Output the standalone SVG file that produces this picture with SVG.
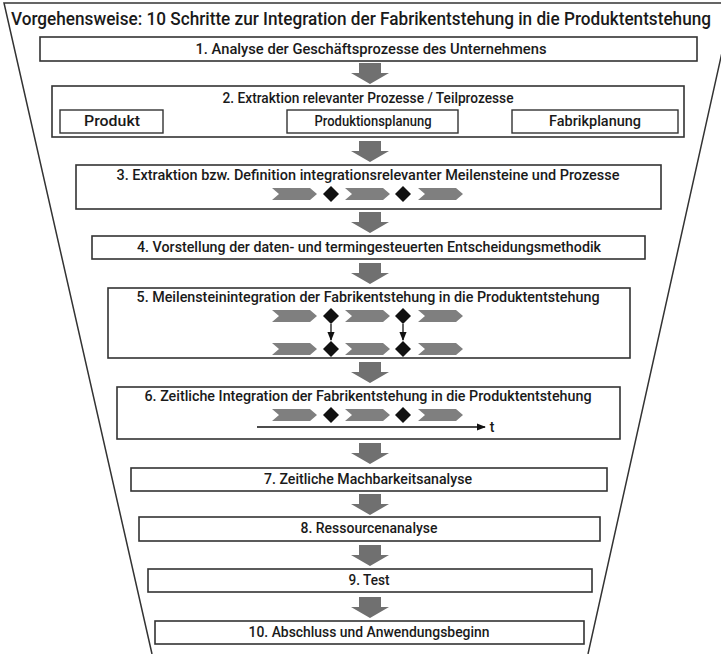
<svg xmlns="http://www.w3.org/2000/svg" xmlns:xlink="http://www.w3.org/1999/xlink" width="721" height="654" viewBox="0 0 721 654">
  <style>
    .box { fill: #ffffff; stroke: #333333; stroke-width: 1.6; }
    .sub { fill: #ffffff; stroke: #333333; stroke-width: 1.4; }
    .lbl { font-family: Roboto, "Liberation Sans", sans-serif; font-weight: 500; font-size: 14px; fill: #1a1a1a; text-anchor: middle; }
    .title { font-family: Roboto, "Liberation Sans", sans-serif; font-weight: 500; font-size: 18px; fill: #1a1a1a; text-anchor: middle; }
    .chev { fill: #7f7f7f; }
    .dia { fill: #111111; }
    .flow { fill: #707070; }
    .line { stroke: #111111; stroke-width: 1.3; fill: none; }
  </style>
  <defs>
    <!-- gray block arrow between the steps, tip at y=21 -->
    <path id="blockArrow" d="M-11 0 H11 V10 H19 L0 21 L-19 10 H-11 Z"/>
    <!-- process chevron, 45 wide, 12 high -->
    <path id="chevron" d="M0 -6 H38 L45 0 L38 6 H0 L7 0 Z"/>
    <!-- milestone diamond -->
    <path id="diamond" d="M0 -8 L8 0 L0 8 L-8 0 Z"/>
    <marker id="tip" viewBox="0 0 10 10" refX="9" refY="5" markerWidth="7" markerHeight="7" orient="auto">
      <path d="M0 1 L10 5 L0 9 Z" fill="#111111"/>
    </marker>
  </defs>

  <rect width="721" height="654" fill="#ffffff"/>

  <!-- funnel outline -->
  <path d="M152 654 L4 3 H733 L588 654" fill="none" stroke="#333333" stroke-width="1.5"/>
  <text class="title" x="361" y="25" textLength="700" lengthAdjust="spacingAndGlyphs">Vorgehensweise: 10 Schritte zur Integration der Fabrikentstehung in die Produktentstehung</text>

  <g id="connectors">
    <use href="#blockArrow" class="flow" x="370" y="63"/>
    <use href="#blockArrow" class="flow" x="370" y="141"/>
    <use href="#blockArrow" class="flow" x="370" y="212"/>
    <use href="#blockArrow" class="flow" x="370" y="263"/>
    <use href="#blockArrow" class="flow" x="370" y="362"/>
    <use href="#blockArrow" class="flow" x="370" y="443"/>
    <use href="#blockArrow" class="flow" x="370" y="494"/>
    <use href="#blockArrow" class="flow" x="370" y="545"/>
    <use href="#blockArrow" class="flow" x="370" y="597"/>
  </g>

  <g id="step1">
    <rect class="box" x="40" y="37" width="657" height="24"/>
    <text class="lbl" x="371" y="54" textLength="351" lengthAdjust="spacingAndGlyphs">1. Analyse der Geschäftsprozesse des Unternehmens</text>
  </g>

  <g id="step2">
    <rect class="box" x="52" y="86" width="632" height="51"/>
    <text class="lbl" x="368" y="103" textLength="291" lengthAdjust="spacingAndGlyphs">2. Extraktion relevanter Prozesse / Teilprozesse</text>
    <rect class="sub" x="60" y="110" width="103" height="23"/>
    <text class="lbl" x="112" y="126" textLength="56" lengthAdjust="spacingAndGlyphs">Produkt</text>
    <rect class="sub" x="287" y="110" width="171" height="23"/>
    <text class="lbl" x="373" y="126" textLength="117" lengthAdjust="spacingAndGlyphs">Produktionsplanung</text>
    <rect class="sub" x="512" y="110" width="166" height="23"/>
    <text class="lbl" x="595" y="126" textLength="92" lengthAdjust="spacingAndGlyphs">Fabrikplanung</text>
  </g>

  <g id="step3">
    <rect class="box" x="76" y="165" width="585" height="44"/>
    <text class="lbl" x="368" y="180" textLength="503" lengthAdjust="spacingAndGlyphs">3. Extraktion bzw. Definition integrationsrelevanter Meilensteine und Prozesse</text>
    <use href="#chevron" class="chev" x="272" y="194"/>
    <use href="#diamond" class="dia" x="331" y="194"/>
    <use href="#chevron" class="chev" x="345" y="194"/>
    <use href="#diamond" class="dia" x="403" y="194"/>
    <use href="#chevron" class="chev" x="418" y="194"/>
  </g>

  <g id="step4">
    <rect class="box" x="92" y="236" width="553" height="23"/>
    <text class="lbl" x="369" y="252" textLength="464" lengthAdjust="spacingAndGlyphs">4. Vorstellung der daten- und termingesteuerten Entscheidungsmethodik</text>
  </g>

  <g id="step5">
    <rect class="box" x="108" y="288" width="522" height="70"/>
    <text class="lbl" x="368" y="302" textLength="463" lengthAdjust="spacingAndGlyphs">5. Meilensteinintegration der Fabrikentstehung in die Produktentstehung</text>
    <use href="#chevron" class="chev" x="272" y="316"/>
    <use href="#diamond" class="dia" x="331" y="316"/>
    <use href="#chevron" class="chev" x="345" y="316"/>
    <use href="#diamond" class="dia" x="403" y="316"/>
    <use href="#chevron" class="chev" x="418" y="316"/>
    <use href="#chevron" class="chev" x="272" y="349"/>
    <use href="#diamond" class="dia" x="331" y="349"/>
    <use href="#chevron" class="chev" x="345" y="349"/>
    <use href="#diamond" class="dia" x="403" y="349"/>
    <use href="#chevron" class="chev" x="418" y="349"/>
    <line class="line" x1="331" y1="324" x2="331" y2="340" marker-end="url(#tip)"/>
    <line class="line" x1="403" y1="324" x2="403" y2="340" marker-end="url(#tip)"/>
  </g>

  <g id="step6">
    <rect class="box" x="117" y="387" width="503" height="52"/>
    <text class="lbl" x="368" y="401" textLength="447" lengthAdjust="spacingAndGlyphs">6. Zeitliche Integration der Fabrikentstehung in die Produktentstehung</text>
    <use href="#chevron" class="chev" x="272" y="415"/>
    <use href="#diamond" class="dia" x="331" y="415"/>
    <use href="#chevron" class="chev" x="345" y="415"/>
    <use href="#diamond" class="dia" x="403" y="415"/>
    <use href="#chevron" class="chev" x="418" y="415"/>
    <line class="line" x1="257" y1="427" x2="485" y2="427" marker-end="url(#tip)"/>
    <text class="lbl" x="492" y="432">t</text>
  </g>

  <g id="step7">
    <rect class="box" x="131" y="468" width="476" height="23"/>
    <text class="lbl" x="368" y="484" textLength="208" lengthAdjust="spacingAndGlyphs">7. Zeitliche Machbarkeitsanalyse</text>
  </g>

  <g id="step8">
    <rect class="box" x="139" y="517" width="461" height="24"/>
    <text class="lbl" x="369" y="533" textLength="137" lengthAdjust="spacingAndGlyphs">8. Ressourcenanalyse</text>
  </g>

  <g id="step9">
    <rect class="box" x="148" y="569" width="444" height="23"/>
    <text class="lbl" x="369" y="585" textLength="41" lengthAdjust="spacingAndGlyphs">9. Test</text>
  </g>

  <g id="step10">
    <rect class="box" x="155" y="621" width="429" height="23"/>
    <text class="lbl" x="369" y="637" textLength="241" lengthAdjust="spacingAndGlyphs">10. Abschluss und Anwendungsbeginn</text>
  </g>
</svg>
